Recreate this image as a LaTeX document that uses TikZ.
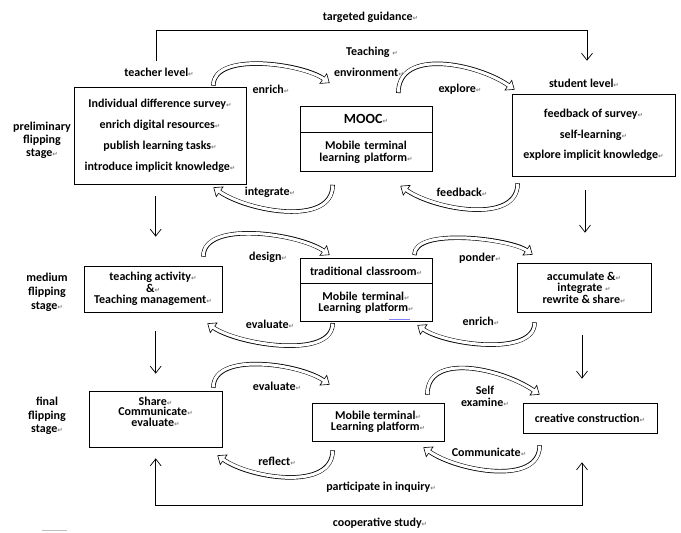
\documentclass[tikz,border=0pt]{standalone}
\usepackage{fontspec}
\setmainfont{Carlito}
\newfontfamily\markfont{DejaVu Sans}
\usetikzlibrary{arrows.meta,shapes.multipart}
\newcommand{\pmk}{{\markfont\fontsize{6.5}{6.5}\selectfont\color{gray}\char"21B5}}
\tikzset{
  box/.style={draw, line width=0.7pt, align=center, inner sep=0pt},
  splitbox/.style={draw, line width=0.7pt, rectangle split, rectangle split parts=2,
    align=center, text width=118pt, inner xsep=7pt, inner ysep=8pt},
  flow/.style={line width=0.7pt, ->},
  band/.style={line width=4.4pt, shorten >=8pt,
    preaction={draw, line width=0.6pt, shorten >=0pt, -{Triangle[width=13pt,length=8pt,fill=white]}},
    postaction={draw, white, line width=3pt, shorten >=6.5pt, shorten <=0.6pt}},
  archup/.style={out=90, in=145, looseness=#1},
  archup/.default=0.8,
  archdown/.style={out=-90, in=-35, looseness=#1},
  archdown/.default=0.8,
}
\begin{document}
\begin{tikzpicture}[x=1pt, y=-1pt, font=\bfseries\fontsize{12}{14}\selectfont,
  >={Straight Barb[length=7pt,width=11pt]}]
\useasboundingbox (0,0) rectangle (681,533);
% boxes
\node[box, minimum width=172pt, minimum height=97pt] (teacher) at (160,135.5) {Individual difference survey\pmk\\[7pt]enrich digital resources\pmk\\[7pt]publish learning tasks\pmk\\[7pt]introduce implicit knowledge\pmk};
\node[splitbox, anchor=north] (mooc) at (366,106) {\fontsize{14}{16}\selectfont MOOC\pmk\nodepart{two}Mobile terminal\\[-2pt]learning platform\pmk};
\node[box, minimum width=163pt, minimum height=82pt] (student) at (593.5,135) {feedback of survey\pmk\\[6.5pt]self-learning\pmk\\[6.5pt]explore implicit knowledge\pmk};
\node[box, minimum width=138pt, minimum height=46pt] (act) at (153,289) {teaching activity\pmk\\[-2.5pt]\&\pmk\\[-2.5pt]Teaching management\pmk};
\node[splitbox, anchor=north] (class) at (366,258) {traditional classroom\pmk\nodepart{two}Mobile terminal\pmk\\[-3pt]Learning platform\pmk};
\node[box, minimum width=134pt, minimum height=49pt] (accum) at (584,287.5) {accumulate \&\pmk\\[-2.5pt]integrate \pmk\\[-2.5pt]rewrite \& share\pmk};
\node[box, minimum width=133pt, minimum height=56pt] (share) at (155.5,419) {Share\pmk\\[-3.5pt]Communicate\pmk\\[-3.5pt]evaluate\pmk\\[-3.5pt]\strut};
\node[box, minimum width=132pt, minimum height=38pt] (fmob) at (378,422) {Mobile terminal\pmk\\[-3pt]Learning platform\pmk};
\node[box, minimum width=134pt, minimum height=30pt] (creative) at (590,418) {creative construction\pmk};
% labels
\node (guide) at (370.5,17) {targeted guidance\pmk};
\node (tlevel) at (159,72) {teacher level\pmk};
\node (teach) at (372,52) {Teaching \pmk};
\node (env) at (369,72) {environment\pmk};
\node (slevel) at (584,83) {student level\pmk};
\node (enrich1) at (271,89) {enrich\pmk};
\node (explore) at (460,89) {explore\pmk};
\node (integ) at (270,192) {integrate\pmk};
\node (feed) at (462,192) {feedback\pmk};
\node[align=center] (stage1) at (42,140) {preliminary\\[-1pt]flipping\\[-1pt]stage\pmk};
\node[align=center] (stage2) at (47,292) {medium\\flipping\\stage\pmk};
\node (design) at (268,257) {design\pmk};
\node (eval1) at (270,324) {evaluate\pmk};
\node (ponder) at (480,258) {ponder\pmk};
\node (enrich2) at (481,321) {enrich\pmk};
\node[align=center] (stage3) at (47,416) {final\\[-0.5pt]flipping\\[-0.5pt]stage\pmk};
\node (eval2) at (277,386) {evaluate\pmk};
\node (reflect) at (277,461) {reflect\pmk};
\node[align=center] (selfex) at (485,396) {Self\\[-2pt]examine\pmk};
\node (commu) at (489,452) {Communicate\pmk};
\node (inquiry) at (381,487) {participate in inquiry\pmk};
\node (coop) at (380,523) {cooperative study\pmk};
% straight arrows
\draw[flow] ([xshift=-3pt,yshift=3pt]tlevel.north) |- ([yshift=-4.5pt]guide.south) -| ([xshift=3pt,yshift=14.5pt]slevel.north);
\draw[flow] ([xshift=-4.3pt,yshift=-12pt]teacher.south) -- ([xshift=2.7pt,yshift=29pt]act.north);
\draw[flow] ([xshift=-8.5pt,yshift=-14pt]student.south) -- ([xshift=1pt,yshift=30pt]accum.north);
\draw[flow] ([xshift=2.7pt,yshift=-19pt]act.south) -- ([xshift=0.2pt,yshift=17pt]share.north);
\draw[flow] ([xshift=-2pt,yshift=-23pt]accum.south) -- ([xshift=-8pt,yshift=24pt]creative.north);
\draw[flow, <->] ([xshift=0.2pt,yshift=-11pt]share.south) |- ([yshift=8.5pt]coop.north) -| ([xshift=-8pt,yshift=-29pt]creative.south);
% curved arrows
\draw[band] ([xshift=-33pt,yshift=1pt]teacher.north east) to[archup=0.75] ([xshift=30pt,yshift=23pt]mooc.north west);
\draw[band] ([xshift=-34pt,yshift=13pt]mooc.north east) to[archup=1] ([xshift=3pt,yshift=4pt]student.north west);
\draw[band] ([xshift=33pt,yshift=-13pt]mooc.south west) to[archdown=0.9] ([xshift=-33pt,yshift=-3pt]teacher.south east);
\draw[band] ([xshift=6pt,yshift=-7pt]student.south west) to[archdown=0.9] ([xshift=-32pt,yshift=-14pt]mooc.south east);
\draw[band] ([xshift=-19pt,yshift=9pt]act.north east) to[archup=0.75] ([xshift=30pt,yshift=3pt]class.north west);
\draw[band] ([xshift=33pt,yshift=-1pt]class.south west) to[archdown=0.75] ([xshift=-15pt,yshift=-11pt]act.south east);
\draw[band] ([xshift=-18pt,yshift=3pt]class.north east) to[archup=0.6] ([xshift=16pt,yshift=8pt]accum.north west);
\draw[band] ([xshift=18pt,yshift=-10pt]accum.south west) to[archdown=0.75] ([xshift=-15pt,yshift=-3pt]class.south east);
\draw[band] ([xshift=-9pt,yshift=3pt]share.north east) to[archup=0.8] ([xshift=18pt,yshift=18pt]fmob.north west);
\draw[band] ([xshift=21pt,yshift=-9pt]fmob.south west) to[archdown=0.9] ([xshift=-5pt,yshift=-8pt]share.south east);
\draw[band] ([xshift=-17pt,yshift=8pt]fmob.north east) to[archup=1] ([xshift=17pt,yshift=8pt]creative.north west);
\draw[band] ([xshift=17pt,yshift=-12pt]creative.south west) to[archdown=0.9] ([xshift=-21pt,yshift=-6pt]fmob.south east);
% marks
\draw[blue!50, line width=0.8pt] (389,319) -- (410,319);
\draw[gray!50, line width=0.8pt] (42,530) -- (67,530);
\end{tikzpicture}
\end{document}
